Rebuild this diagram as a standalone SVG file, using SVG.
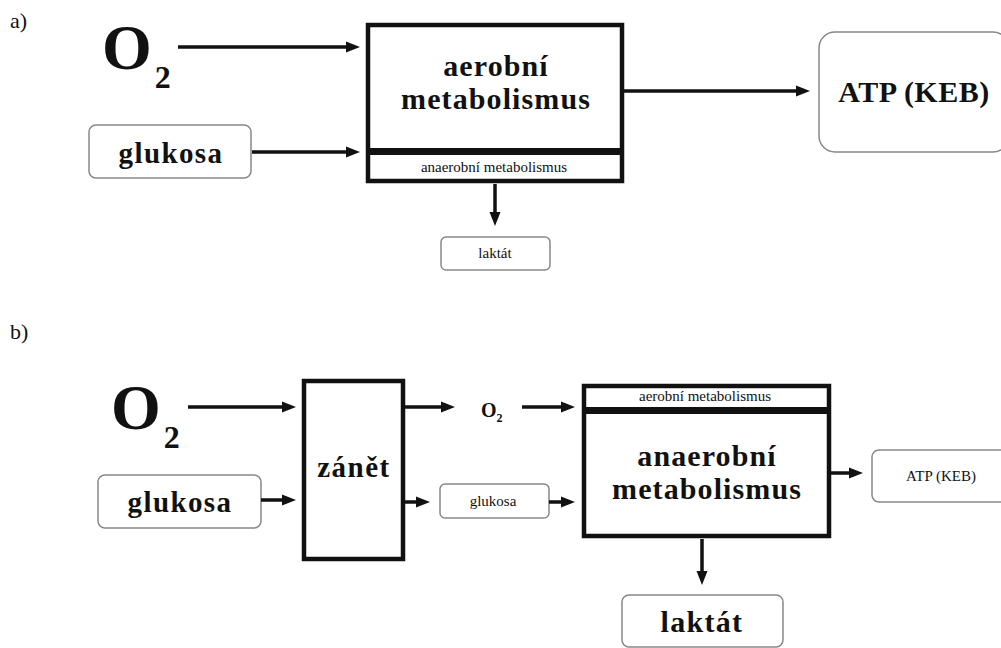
<svg xmlns="http://www.w3.org/2000/svg" width="1001" height="648" viewBox="0 0 1001 648">
<defs>
<marker id="ah" markerUnits="userSpaceOnUse" markerWidth="14" markerHeight="12" viewBox="0 0 14 12" refX="0" refY="6" orient="auto">
<path d="M0,0.5 L14,6 L0,11.5 z" fill="#111"/>
</marker>
<style>
.t{font-family:"Liberation Serif","Times New Roman",serif;fill:#111;}
.b{font-weight:bold;}
.big{font-size:30px;font-weight:bold;letter-spacing:1.1px;}
.small{font-size:15px;}
.main{fill:#fff;stroke:#111;stroke-width:4.5;}
.rbox{fill:#fff;stroke:#888;stroke-width:1.5;}
.con line{stroke:#111;stroke-width:3.5;marker-end:url(#ah);}
.band{fill:#111;}
</style>
</defs>
<rect width="1001" height="648" fill="#fff"/>

<!-- part a -->
<text class="t" x="10" y="28" font-size="22">a)</text>
<g id="a_o2">
<text class="t b" x="102" y="69" font-size="64">O<tspan font-size="32" dx="3" dy="19">2</tspan></text>
</g>
<g id="a_glukosa">
<rect class="rbox" x="89" y="125" width="162" height="53" rx="7"/>
<text class="t b" x="171" y="163" font-size="29" letter-spacing="1.4" text-anchor="middle">glukosa</text>
</g>
<g id="a_metab">
<rect class="main" x="368" y="25" width="254" height="156"/>
<rect class="band" x="368" y="148" width="254" height="7"/>
<text class="t big" x="496" y="76" text-anchor="middle">aerobní</text>
<text class="t big" x="496" y="109" text-anchor="middle">metabolismus</text>
<text class="t small" x="494" y="172" text-anchor="middle">anaerobní metabolismus</text>
</g>
<g id="a_laktat">
<rect class="rbox" x="441" y="237" width="109" height="33" rx="5"/>
<text class="t" x="495" y="258" font-size="15" text-anchor="middle">laktát</text>
</g>
<g id="a_atp">
<rect class="rbox" x="819" y="32" width="190" height="120" rx="16"/>
<text class="t b" x="914" y="102" font-size="30" letter-spacing="0.5" text-anchor="middle">ATP (KEB)</text>
</g>

<!-- part b -->
<text class="t" x="10" y="339" font-size="22">b)</text>
<g id="b_o2">
<text class="t b" x="111" y="429" font-size="64">O<tspan font-size="32" dx="3" dy="19">2</tspan></text>
</g>
<g id="b_glukosa">
<rect class="rbox" x="98" y="475" width="163" height="53" rx="7"/>
<text class="t b" x="180" y="512" font-size="29" letter-spacing="1.4" text-anchor="middle">glukosa</text>
</g>
<g id="b_zanet">
<rect class="main" x="304" y="381" width="99" height="178"/>
<text class="t b" x="354" y="477" font-size="29" letter-spacing="1.5" text-anchor="middle">zánět</text>
</g>
<g id="b_o2small">
<text class="t b" x="481" y="417" font-size="20">O<tspan font-size="12" dy="5">2</tspan></text>
</g>
<g id="b_glukosa_small">
<rect class="rbox" x="440" y="484" width="109" height="34" rx="5"/>
<text class="t small" x="493" y="506" text-anchor="middle">glukosa</text>
</g>
<g id="b_metab">
<rect class="main" x="584" y="386" width="245" height="150"/>
<rect class="band" x="584" y="407" width="245" height="7"/>
<text class="t small" x="705" y="401" text-anchor="middle">aerobní metabolismus</text>
<text class="t big" x="707" y="466" text-anchor="middle">anaerobní</text>
<text class="t big" x="707" y="499" text-anchor="middle">metabolismus</text>
</g>
<g id="b_laktat">
<rect class="rbox" x="622" y="595" width="161" height="52" rx="7"/>
<text class="t b" x="702" y="632" font-size="30" letter-spacing="1.3" text-anchor="middle">laktát</text>
</g>
<g id="b_atp">
<rect class="rbox" x="872" y="450" width="135" height="52" rx="7"/>
<text class="t" x="941" y="481" font-size="15" text-anchor="middle">ATP (KEB)</text>
</g>

<g id="connectors" class="con">
<line x1="178" y1="47" x2="346" y2="47"/>
<line x1="252" y1="152" x2="346" y2="152"/>
<line x1="622" y1="91" x2="796" y2="91"/>
<line x1="495" y1="184" x2="495" y2="212"/>
<line x1="188" y1="407" x2="282" y2="407"/>
<line x1="261" y1="500" x2="282" y2="500"/>
<line x1="405" y1="407" x2="441" y2="407"/>
<line x1="405" y1="502" x2="416" y2="502"/>
<line x1="522" y1="407" x2="561" y2="407"/>
<line x1="549" y1="502" x2="561" y2="502"/>
<line x1="831" y1="473" x2="849" y2="473"/>
<line x1="702" y1="539" x2="702" y2="571"/>
</g>
</svg>
